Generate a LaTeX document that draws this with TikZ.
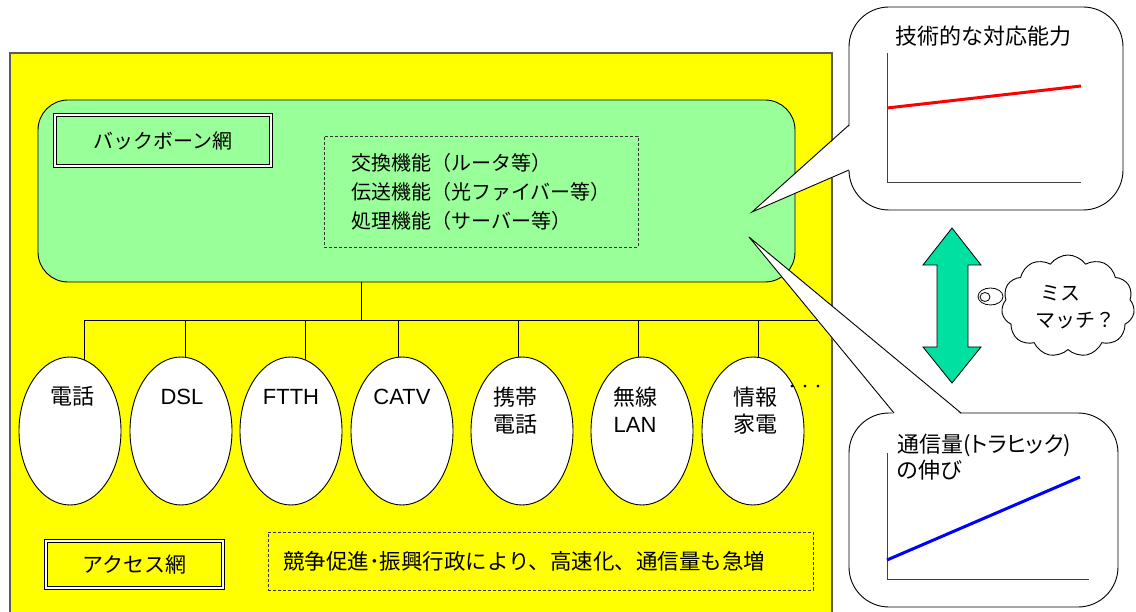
\documentclass[tikz,border=0pt]{standalone}
\usepackage{fontspec}
\setmainfont{Liberation Sans}
\newfontfamily\jpfam{Noto Sans CJK JP}
\newfontfamily\jpprop[RawFeature=+palt]{Noto Sans CJK JP}
\usetikzlibrary{shapes.geometric,shapes.symbols}
\definecolor{yel}{RGB}{255,255,0}
\definecolor{grn}{RGB}{153,255,153}
\definecolor{arrc}{RGB}{0,224,160}
\definecolor{bord}{RGB}{90,90,90}
\begin{document}
\begin{tikzpicture}[x=1pt,y=-1pt,
  jp/.style={font=\jpfam\fontsize{20}{29}\selectfont},
  jpl/.style={font=\jpfam\fontsize{22}{27}\selectfont},
  lat/.style={font=\fontsize{22}{27}\selectfont},
  ell/.style={ellipse, draw, fill=white, line width=0.9pt, minimum width=102pt, minimum height=148pt, inner sep=0pt},
  lbl/.style={anchor=base, align=center, inner sep=0pt},
  conn/.style={line width=0.9pt},
  dblbox/.style={draw, double, double distance=1.6pt, line width=1.1pt, inner sep=0pt},
  dashbox/.style={draw=black!80, dash pattern=on 3pt off 2pt, line width=0.9pt},
  bubble/.style={draw, fill=white, line width=0.9pt, rounded corners=40pt, inner sep=0pt},
  axisln/.style={line width=0.9pt, draw=black!75}]
\useasboundingbox (0,0) rectangle (1136,612);
% access network (yellow)
\node[draw=bord, fill=yel, line width=1.5pt, minimum width=822pt, minimum height=563pt, inner sep=0pt] (acc) at (421,334.5) {};
% backbone (green)
\node[draw, fill=grn, line width=0.9pt, rounded corners=30pt, minimum width=757pt, minimum height=182pt, inner sep=0pt] (gb) at (416.5,191) {};
\node[dblbox, fill=grn, minimum width=216pt, minimum height=51pt, jp] (bbl) at (163,140.5) {バックボーン網};
\node[dashbox, minimum width=314pt, minimum height=111pt, align=left, jp, inner sep=0pt] (fn) at (481,191.5) {交換機能（ルータ等）\\伝送機能（光ファイバー等）\\処理機能（サーバー等）};
% trunk
\coordinate (trunk) at (361,320);
\coordinate (tl) at (84,320);
\coordinate (tr) at (830,320);
\draw[conn] (gb.south -| trunk) -- (trunk);
\draw[conn] (tl) -- (tr);
\foreach \cx in {84,185,305,398,518,638,758}{
  \draw[conn] (\cx,320) -- (\cx,370);
}
% ellipses
\node[ell] (e1) at (70,431) {};
\node[ell] (e2) at (181,431) {};
\node[ell] (e3) at (291,431) {};
\node[ell] (e4) at (402,431) {};
\node[ell] (e5) at (522,431) {};
\node[ell] (e6) at (642,431) {};
\node[ell] (e7) at (753,431) {};
\node[lbl, jpl] (l1) at (72,405) {電話};
\node[lbl, lat] (l2) at (182,405) {DSL};
\node[lbl, lat] (l3) at (291,405) {FTTH};
\node[lbl, lat] (l4) at (402,405) {CATV};
\node[lbl, jpl] (l5) at (515,432) {携帯\\電話};
\node[lbl, lat] (l6) at (635,432) {{\jpfam 無線}\\LAN};
\node[lbl, jpl] (l7) at (755,432) {情報\\家電};
\node[font=\jpfam\fontsize{13}{13}\selectfont, inner sep=0pt] (dots) at (805,388) {・・・};
% bottom boxes
\node[dblbox, fill=yel, minimum width=177pt, minimum height=47pt, font=\jpfam\fontsize{21}{27}\selectfont] (abl) at (134.5,564.5) {アクセス網};
\node[dashbox, minimum width=545pt, minimum height=58pt, text width=515pt, align=left, inner xsep=15pt, inner ysep=0pt, font=\jpfam\fontsize{21.5}{27}\selectfont] (cmp) at (540.5,561) {競争促進･振興行政により、高速化、通信量も急増};
% bubbles
\node[bubble, minimum width=274pt, minimum height=203pt] (tb) at (986,108.5) {};
\node[bubble, minimum width=269pt, minimum height=194pt] (bb) at (983.5,510) {};
\coordinate (tipA) at (752,212);
\coordinate (tipB) at (749,237);
\coordinate (ta1) at (849,125);
\coordinate (ta2) at (849,170);
\coordinate (tb1) at (894,413);
\coordinate (tb2) at (961,413);
\fill[white] (tipA) -- (850.5,125) -- (850.5,170) -- cycle;
\fill[white] (tipB) -- (894,414.5) -- (961,414.5) -- cycle;
\draw[conn] (ta1) -- (tipA) -- (ta2);
\draw[conn] (tb1) -- (tipB) -- (tb2);
% top graph
\node[anchor=base, jpl, inner sep=0pt] (tt) at (983,45) {技術的な対応能力};
\coordinate (o1) at (887,182);
\draw[axisln] (887,53) -- (o1) -- (1081,182);
\draw[red, line width=3pt] (887,108) -- (1081,86);
% bottom graph
\node[anchor=base west, align=left, font=\jpprop\fontsize{22}{25}\selectfont, inner sep=0pt] (bt) at (897,478) {通信量(トラヒック)\\の伸び};
\coordinate (o2) at (887,579);
\draw[axisln] (887,453) -- (o2) -- (1089,579);
\draw[blue, line width=3pt] (887,560) -- (1080,477);
% double arrow
\draw[fill=arrc, line width=0.8pt] (952,228) -- (981,265) -- (968,265) -- (968,347) -- (981,347) -- (952,383) -- (923,347) -- (937,347) -- (937,265) -- (923,265) -- cycle;
% cloud
\node[cloud, draw, fill=white, line width=0.9pt, cloud puffs=11, cloud puff arc=110, aspect=1.3, minimum width=133pt, minimum height=102pt, inner sep=0pt] (cl) at (1068,306) {};
\draw[fill=white, line width=0.8pt] (990.5,296.5) ellipse [x radius=12.5, y radius=8.5];
\draw[fill=white, line width=0.8pt] (985,297) ellipse [x radius=5, y radius=4.5];
\node[anchor=base west, align=left, font=\jpfam\fontsize{20}{27}\selectfont, inner sep=0pt] (clt) at (1035,328) {\hspace{5pt}ミス\\マッチ？};
\end{tikzpicture}
\end{document}
